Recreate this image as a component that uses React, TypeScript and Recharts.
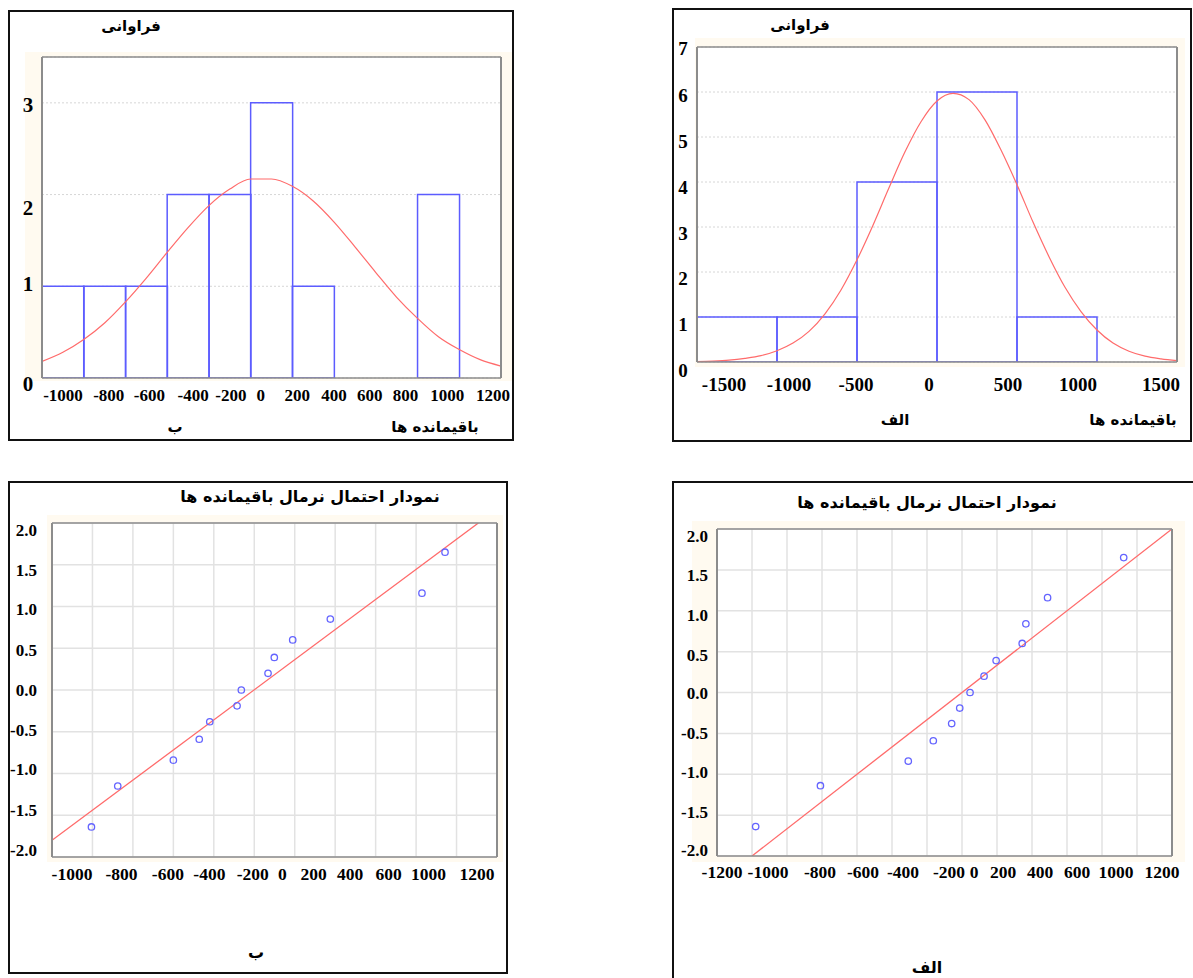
import React from 'react';
import { ComposedChart, Bar, Line, Scatter, XAxis, YAxis, CartesianGrid } from 'recharts';

// histogram ب (left): residual bins of 200, counts, fitted normal curve
const binMidsB = [-900, -700, -500, -300, -100, 100, 300, 500, 700, 900, 1100];
const binCountsB = [1, 1, 1, 2, 2, 3, 1, 0, 0, 2, 0];
const curveXB = [-1000, -900, -800, -700, -600, -500, -400, -300, -200, -100, 0, 100, 200, 300, 400, 500, 600, 700, 800, 900, 1000, 1100, 1200];
const curveYB = [0.18, 0.28, 0.42, 0.6, 0.83, 1.09, 1.37, 1.64, 1.88, 2.06, 2.17, 2.17, 2.09, 1.93, 1.7, 1.43, 1.15, 0.88, 0.65, 0.45, 0.31, 0.2, 0.13];
const histTicksB = [-1000, -800, -600, -400, -200, 0, 200, 400, 600, 800, 1000, 1200];
const freqTicksB = [0, 1, 2, 3];

// histogram الف (right): bins of 500
const binMidsA = [-1250, -750, -250, 250, 750, 1250];
const binCountsA = [1, 1, 4, 6, 1, 0];
const curveXA = [-1500, -1400, -1300, -1200, -1100, -1000, -900, -800, -700, -600, -500, -400, -300, -200, -100, 0, 100, 200, 300, 400, 500, 600, 700, 800, 900, 1000, 1100, 1200, 1300, 1400, 1500];
const curveYA = [0.01, 0.02, 0.04, 0.08, 0.14, 0.25, 0.42, 0.68, 1.07, 1.6, 2.27, 3.04, 3.87, 4.67, 5.34, 5.8, 5.97, 5.83, 5.38, 4.71, 3.94, 3.11, 2.34, 1.66, 1.12, 0.71, 0.42, 0.24, 0.13, 0.07, 0.03];
const histTicksA = [-1500, -1000, -500, 0, 500, 1000, 1500];
const freqTicksA = [0, 1, 2, 3, 4, 5, 6, 7];

// normal probability plots
const residB = [-805, -675, -400, -272, -220, -85, -64, 68, 99, 190, 376, 829, 943];
const expectedB = [-1.64, -1.15, -0.84, -0.59, -0.38, -0.19, 0, 0.2, 0.39, 0.6, 0.85, 1.16, 1.65];
const fitXB = [-1000, 1108];
const fitYB = [-1.8, 2.0];
const probTicksB = [-1000, -800, -600, -400, -200, 0, 200, 400, 600, 800, 1000, 1200];
const hiddenLabelsB = [800];

const residA = [-1179, -809, -307, -164, -59, -13, 46, 126, 195, 344, 365, 489, 924];
const expectedA = [-1.64, -1.14, -0.84, -0.59, -0.38, -0.19, 0, 0.2, 0.39, 0.6, 0.84, 1.16, 1.65];
const fitXA = [-1200, 1200];
const fitYA = [-2.0, 2.0];
const probTicksA = [-1400, -1200, -1000, -800, -600, -400, -200, 0, 200, 400, 600, 800, 1000, 1200];
const hiddenLabelsA = [-1400, 800];

const zTicks = [-2, -1.5, -1, -0.5, 0, 0.5, 1, 1.5, 2];

const SERIF = "'Liberation Serif', 'Times New Roman', serif";
const PERSIAN = "'DejaVu Sans', 'Noto Sans', sans-serif";
const FRAME = '#8c8c8c';
const BLUE = '#5c5cff';
const RED = '#ff6b6b';
const CREAM = '#fffaf0';

const ML = 60;
const MT = 20;
const MR = 16;
const MB = 50;

type Plot = { left: number; top: number; width: number; height: number };

function Box({ left, top, width, height }: Plot) {
  return (
    <div
      style={{
        position: 'absolute',
        left,
        top,
        width,
        height,
        border: '2px solid #111',
        boxSizing: 'border-box',
      }}
    />
  );
}

function Cream({ left, top, width, height }: Plot) {
  return <div style={{ position: 'absolute', left, top, width, height, background: CREAM }} />;
}

function Fa({ x, y, text, size }: { x: number; y: number; text: string; size: number }) {
  return (
    <div
      dir="rtl"
      style={{
        position: 'absolute',
        left: x,
        top: y,
        transform: 'translate(-50%, -50%)',
        fontFamily: PERSIAN,
        fontWeight: 'bold',
        fontSize: size,
        whiteSpace: 'nowrap',
        color: '#000',
      }}
    >
      {text}
    </div>
  );
}

// top and right edges of the frame, with small inward tick marks
function frameAxes(xTicks: number[], yTicks: number[], xDomain: number[], yDomain: number[]) {
  return [
    <XAxis
      key="top"
      xAxisId="top"
      orientation="top"
      mirror
      type="number"
      domain={xDomain}
      ticks={xTicks}
      allowDataOverflow
      tick={false}
      tickSize={3}
      tickLine={{ stroke: '#444' }}
      axisLine={{ stroke: FRAME, strokeWidth: 1.5 }}
    />,
    <YAxis
      key="right"
      yAxisId="right"
      orientation="right"
      mirror
      type="number"
      domain={yDomain}
      ticks={yTicks}
      allowDataOverflow
      tick={false}
      tickSize={3}
      tickLine={{ stroke: '#444' }}
      axisLine={{ stroke: FRAME, strokeWidth: 2 }}
    />,
  ];
}

function xTickRenderer(labelY: number, font: number, nudge: number[], hidden: number[] = []) {
  return (t: any) =>
    hidden.includes(t.payload.value) ? (
      <g />
    ) : (
      <text
        x={t.x + (nudge[t.index] || 0)}
        y={labelY}
        dy="0.35em"
        textAnchor="middle"
        fontFamily={SERIF}
        fontWeight="bold"
        fontSize={font}
        fill="#000"
      >
        {t.payload.value}
      </text>
    );
}

type HistProps = {
  plot: Plot;
  mids: number[];
  counts: number[];
  curveX: number[];
  curveY: number[];
  xTicks: number[];
  yTicks: number[];
  yMax: number;
  xFont: number;
  yFont: number;
  xLabelY: number;
  yLabelX: number;
  xNudge: number[];
  yNudge: number[];
};

function Histogram(p: HistProps) {
  const data = p.mids.map((m, i) => ({ x: m, count: p.counts[i] }));
  const curve = p.curveX.map((x, i) => ({ x, y: p.curveY[i] }));
  const xDomain = [p.xTicks[0], p.xTicks[p.xTicks.length - 1]];
  const labelY = MT + p.plot.height + (p.xLabelY - (p.plot.top + p.plot.height));
  const labelX = ML - (p.plot.left - p.yLabelX);
  return (
    <div style={{ position: 'absolute', left: p.plot.left - ML, top: p.plot.top - MT }}>
      <ComposedChart
        width={p.plot.width + ML + MR}
        height={p.plot.height + MT + MB}
        data={data}
        margin={{ top: MT, right: MR, left: 0, bottom: 0 }}
        barCategoryGap={0}
        barGap={0}
      >
        <CartesianGrid vertical={false} fill="#fff" stroke="#d6d6d6" strokeDasharray="2 2" />
        <XAxis
          type="number"
          dataKey="x"
          domain={xDomain}
          ticks={p.xTicks}
          interval={0}
          allowDataOverflow
          height={MB}
          tickLine={false}
          axisLine={{ stroke: FRAME, strokeWidth: 1.5 }}
          tick={xTickRenderer(labelY, p.xFont, p.xNudge)}
        />
        {/* separate hidden axis for the curve so its sample spacing does not set the bar width */}
        <XAxis xAxisId="curve" type="number" dataKey="x" domain={xDomain} allowDataOverflow hide />
        <YAxis
          type="number"
          domain={[0, p.yMax]}
          ticks={p.yTicks}
          interval={0}
          allowDataOverflow
          width={ML}
          tickLine={false}
          axisLine={{ stroke: FRAME, strokeWidth: 2 }}
          tick={(t: any) => (
            <text
              x={labelX}
              y={t.y + (p.yNudge[t.index] || 0)}
              dy="0.35em"
              textAnchor="middle"
              fontFamily={SERIF}
              fontWeight="bold"
              fontSize={p.yFont}
              fill="#000"
            >
              {t.payload.value}
            </text>
          )}
        />
        {frameAxes(p.xTicks, p.yTicks, xDomain, [0, p.yMax])}
        <Bar dataKey="count" fill="none" stroke={BLUE} strokeWidth={1.5} isAnimationActive={false} />
        <Line
          xAxisId="curve"
          data={curve}
          dataKey="y"
          type="monotone"
          stroke={RED}
          strokeWidth={1.2}
          dot={false}
          isAnimationActive={false}
        />
      </ComposedChart>
    </div>
  );
}

type ProbProps = {
  plot: Plot;
  resid: number[];
  expected: number[];
  fitX: number[];
  fitY: number[];
  xTicks: number[];
  hidden: number[];
  xLabelY: number;
  yLabelRight: number;
  xNudge: number[];
  yNudge: number[];
};

function ProbPlot(p: ProbProps) {
  const points = p.resid.map((r, i) => ({ x: r, y: p.expected[i] }));
  const fit = p.fitX.map((x, i) => ({ x, y: p.fitY[i] }));
  const xDomain = [p.xTicks[0], p.xTicks[p.xTicks.length - 1]];
  const labelY = MT + p.plot.height + (p.xLabelY - (p.plot.top + p.plot.height));
  const labelX = ML - (p.plot.left - p.yLabelRight);
  return (
    <div style={{ position: 'absolute', left: p.plot.left - ML, top: p.plot.top - MT }}>
      <ComposedChart
        width={p.plot.width + ML + MR}
        height={p.plot.height + MT + MB}
        margin={{ top: MT, right: MR, left: 0, bottom: 0 }}
      >
        <CartesianGrid fill="#fff" stroke="#e2e2e2" strokeWidth={1.5} />
        <XAxis
          type="number"
          dataKey="x"
          domain={xDomain}
          ticks={p.xTicks}
          interval={0}
          allowDataOverflow
          height={MB}
          tickLine={false}
          axisLine={{ stroke: FRAME, strokeWidth: 1.5 }}
          tick={xTickRenderer(labelY, 17.5, p.xNudge, p.hidden)}
        />
        <YAxis
          type="number"
          dataKey="y"
          domain={[-2, 2]}
          ticks={zTicks}
          interval={0}
          allowDataOverflow
          width={ML}
          tickLine={false}
          axisLine={{ stroke: FRAME, strokeWidth: 2 }}
          tick={(t: any) => (
            <text
              x={labelX}
              y={t.y + (p.yNudge[t.index] || 0)}
              dy="0.35em"
              textAnchor="end"
              fontFamily={SERIF}
              fontWeight="bold"
              fontSize={17}
              fill="#000"
            >
              {Number(t.payload.value).toFixed(1)}
            </text>
          )}
        />
        {frameAxes(p.xTicks, zTicks, xDomain, [-2, 2])}
        <Line data={fit} dataKey="y" type="linear" stroke={RED} strokeWidth={1.3} dot={false} isAnimationActive={false} />
        <Scatter
          data={points}
          dataKey="y"
          isAnimationActive={false}
          shape={(s: any) => <circle cx={s.cx} cy={s.cy} r={3.2} fill="none" stroke="#6464ff" strokeWidth={1.3} />}
        />
      </ComposedChart>
    </div>
  );
}

export default function App() {
  const title = 'نمودار احتمال نرمال باقیمانده ها';
  return (
    <div style={{ position: 'absolute', left: 0, top: 0, width: 1193, height: 978, overflow: 'hidden', background: '#fff' }}>
      {/* top-left: histogram ب */}
      <Box left={8} top={10} width={506} height={431} />
      <Cream left={25} top={52} width={487} height={329} />
      <Histogram
        plot={{ left: 42, top: 57, width: 459, height: 321 }}
        mids={binMidsB}
        counts={binCountsB}
        curveX={curveXB}
        curveY={curveYB}
        xTicks={histTicksB}
        yTicks={freqTicksB}
        yMax={3.5}
        xFont={17}
        yFont={21}
        xLabelY={395}
        yLabelX={28}
        xNudge={[21, 25, 24, 26, 22, 10, 5, 0, -6, -12, -12, -8]}
        yNudge={[6, -3, 13, 2]}
      />
      <Fa x={131} y={26} text="فراوانی" size={15} />
      <Fa x={175} y={427} text="ب" size={15} />
      <Fa x={435} y={427} text="باقیمانده ها" size={15} />

      {/* top-right: histogram الف */}
      <Box left={672} top={8} width={520} height={434} />
      <Cream left={695} top={38} width={490} height={329} />
      <Histogram
        plot={{ left: 697, top: 47, width: 480, height: 315 }}
        mids={binMidsA}
        counts={binCountsA}
        curveX={curveXA}
        curveY={curveYA}
        xTicks={histTicksA}
        yTicks={freqTicksA}
        yMax={7}
        xFont={19}
        yFont={19}
        xLabelY={384}
        yLabelX={683}
        xNudge={[27, 12, -1, -8, -9, -19, -16]}
        yNudge={[8, 7, 6, 6, 5, 4, 3, 1]}
      />
      <Fa x={800} y={25} text="فراوانی" size={15} />
      <Fa x={895} y={420} text="الف" size={15} />
      <Fa x={1133} y={420} text="باقیمانده ها" size={15} />

      {/* bottom-left: normal probability plot ب */}
      <Box left={8} top={481} width={500} height={493} />
      <Cream left={47} top={515} width={456} height={347} />
      <ProbPlot
        plot={{ left: 52, top: 523, width: 445, height: 334 }}
        resid={residB}
        expected={expectedB}
        fitX={fitXB}
        fitY={fitYB}
        xTicks={probTicksB}
        hidden={hiddenLabelsB}
        xLabelY={874}
        yLabelRight={37}
        xNudge={[20, 29, 35, 36, 39, 28, 19, 15, 13, 0, -28, -20]}
        yNudge={[-7, -5.5, -4, -2, 0, 2, 3, 5.5, 7]}
      />
      <Fa x={310} y={496} text={title} size={16} />
      <Fa x={256} y={952} text="ب" size={16} />

      {/* bottom-right: normal probability plot الف */}
      <Box left={672} top={481} width={540} height={520} />
      <Cream left={692} top={521} width={493} height={341} />
      <ProbPlot
        plot={{ left: 717, top: 529, width: 455, height: 327 }}
        resid={residA}
        expected={expectedA}
        fitX={fitXA}
        fitY={fitYA}
        xTicks={probTicksA}
        hidden={hiddenLabelsA}
        xLabelY={872}
        yLabelRight={708}
        xNudge={[0, -30, -19, -2, 6, 11, 22, 12, 6, 8, 10, 0, -21, -10]}
        yNudge={[-6, -3.5, -2.5, 0, 1, 3, 4.5, 5.5, 7]}
      />
      <Fa x={927} y={502} text={title} size={16} />
      <Fa x={927} y={967} text="الف" size={16} />
    </div>
  );
}
